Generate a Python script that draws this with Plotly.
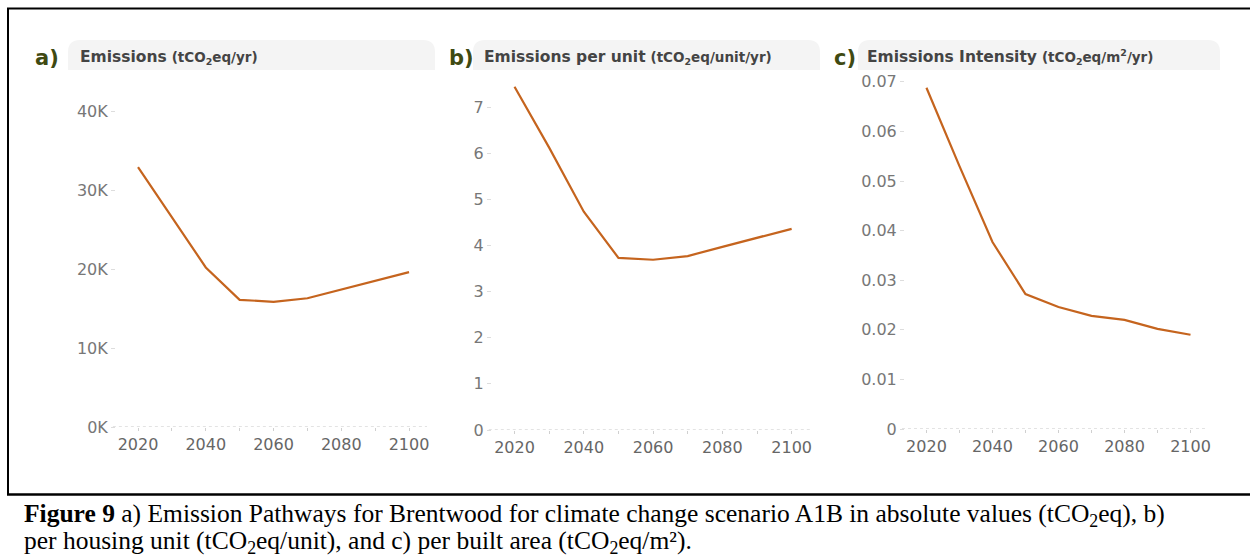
import plotly.graph_objects as go

W, H = 1250, 559

years = [2020, 2030, 2040, 2050, 2060, 2070, 2080, 2090, 2100]
emissions = [32900, 26600, 20200, 16100, 15850, 16300, 17400, 18500, 19600]
per_unit = [7.44, 6.12, 4.73, 3.73, 3.69, 3.77, 3.97, 4.16, 4.36]
intensity = [0.0688, 0.0530, 0.0377, 0.0272, 0.0246, 0.0228, 0.0220, 0.0202, 0.0190]

a_ticks = [0, 10000, 20000, 30000, 40000]
a_labels = ["0K", "10K", "20K", "30K", "40K"]
b_ticks = [0, 1, 2, 3, 4, 5, 6, 7]
b_labels = ["0", "1", "2", "3", "4", "5", "6", "7"]
c_ticks = [0, 0.01, 0.02, 0.03, 0.04, 0.05, 0.06, 0.07]
c_labels = ["0", "0.01", "0.02", "0.03", "0.04", "0.05", "0.06", "0.07"]
x_ticks = [2020, 2040, 2060, 2080, 2100]

LINE = "#c5641e"
FONT = "DejaVu Sans"


def px(x):
    return x / W


def py(y):
    return 1 - y / H


fig = go.Figure()

panels = [
    (emissions, 116, 427, 427, 80, (427 - 80) / 79.0 * 10000, a_ticks, a_labels),
    (per_unit, 492, 810, 430, 80, (430 - 80) / 46.14, b_ticks, b_labels),
    (intensity, 905, 1208, 429, 80, (429 - 80) / 4960.0, c_ticks, c_labels),
]

shapes = []
for i, (vals, xl, xr, yb, yt, ymax, tv, tt) in enumerate(panels):
    n = "" if i == 0 else str(i + 1)
    fig.add_trace(go.Scatter(
        x=years, y=vals, mode="lines",
        line=dict(color=LINE, width=2.2),
        xaxis="x" + n, yaxis="y" + n, showlegend=False, hoverinfo="x+y",
    ))
    fig.layout["xaxis" + n] = dict(
        domain=[px(xl), px(xr)], anchor="y" + n,
        range=[2013.5, 2105.3],
        tickvals=x_ticks, ticktext=[str(v) for v in x_ticks],
        showgrid=False, zeroline=False, showline=False,
        ticks="outside", ticklen=3, tickcolor="#d0d0d0",
        minor=dict(dtick=10, tick0=2020, ticks="outside", ticklen=3, tickcolor="#d0d0d0", showgrid=False),
        tickfont=dict(family=FONT, size=16, color="#666666"),
        ticklabelstandoff=0,
        automargin=False,
        fixedrange=True,
    )
    fig.layout["yaxis" + n] = dict(
        domain=[py(yb), py(yt)], anchor="x" + n,
        range=[0, ymax],
        tickvals=tv, ticktext=tt,
        showgrid=False, zeroline=False, showline=False,
        ticks="outside", ticklen=4, tickcolor="#dddddd",
        tickfont=dict(family=FONT, size=16, color="#777777"),
        automargin=False,
        fixedrange=True,
    )
    shapes.append(dict(
        type="line", xref="x" + n + " domain", yref="y" + n,
        x0=-0.01, x1=1.0, y0=0, y1=0,
        line=dict(color="#c8c8c8", width=1.2, dash="dot"),
    ))

pills = [(68, 435), (473, 820), (858, 1220)]
for x0, x1 in pills:
    y0, y1, r = 40, 70, 12
    path = (f"M {px(x0)},{py(y1)} L {px(x0)},{py(y0 + r)} "
            f"Q {px(x0)},{py(y0)} {px(x0 + r)},{py(y0)} "
            f"L {px(x1 - r)},{py(y0)} Q {px(x1)},{py(y0)} {px(x1)},{py(y0 + r)} "
            f"L {px(x1)},{py(y1)} Z")
    shapes.append(dict(type="path", xref="paper", yref="paper", path=path,
                       fillcolor="#f4f4f4", line=dict(width=0), layer="below"))

shapes += [
    dict(type="line", xref="paper", yref="paper", x0=px(7), x1=1, y0=py(8.5), y1=py(8.5),
         line=dict(color="black", width=2)),
    dict(type="line", xref="paper", yref="paper", x0=px(8), x1=px(8), y0=py(8), y1=py(495),
         line=dict(color="black", width=2)),
    dict(type="line", xref="paper", yref="paper", x0=px(7), x1=1, y0=py(494.5), y1=py(494.5),
         line=dict(color="black", width=2.5)),
]

annotations = []
letters = [("a)", 33), ("b)", 447), ("c)", 832)]
for t, x in letters:
    annotations.append(dict(text=f"<b>{t}</b>", x=px(x), y=py(58), xref="paper", yref="paper",
                            xanchor="left", yanchor="middle", showarrow=False,
                            font=dict(family=FONT, size=21, color="#3f4a12")))

titles = [
    ("Emissions", "(tCO<sub>2</sub>eq/yr)", 78),
    ("Emissions per unit", "(tCO<sub>2</sub>eq/unit/yr)", 482),
    ("Emissions Intensity", "(tCO<sub>2</sub>eq/m<sup>2</sup>/yr)", 865),
]
for main, unit, x in titles:
    annotations.append(dict(
        text=f"<b>{main}</b> <span style='font-size:13.5px'><b>{unit}</b></span>",
        x=px(x), y=py(57), xref="paper", yref="paper",
        xanchor="left", yanchor="middle", showarrow=False,
        font=dict(family=FONT, size=15.5, color="#444444")))

cap1 = ("<b>Figure 9</b> a) Emission Pathways for Brentwood for climate change scenario A1B in "
        "absolute values (tCO<sub>2</sub>eq), b)")
cap2 = "per housing unit (tCO<sub>2</sub>eq/unit), and c) per built area (tCO<sub>2</sub>eq/m²)."
for txt, y in [(cap1, 515), (cap2, 542)]:
    annotations.append(dict(text=txt, x=px(22), y=py(y), xref="paper", yref="paper",
                            xanchor="left", yanchor="middle", showarrow=False,
                            font=dict(family="Liberation Serif", size=25.5, color="black")))

fig.update_layout(
    width=W, height=H,
    margin=dict(l=0, r=0, t=0, b=0, autoexpand=False),
    paper_bgcolor="white", plot_bgcolor="white",
    shapes=shapes, annotations=annotations,
    showlegend=False,
)

post = ("var gd=document.getElementById('{plot_id}');"
        "gd.style.position='fixed';gd.style.top='0px';gd.style.left='0px';"
        "document.body.style.margin='0';document.body.style.overflow='hidden';"
        "document.documentElement.style.overflow='hidden';")
fig.write_html("out.html", config={"displayModeBar": False}, post_script=post)
